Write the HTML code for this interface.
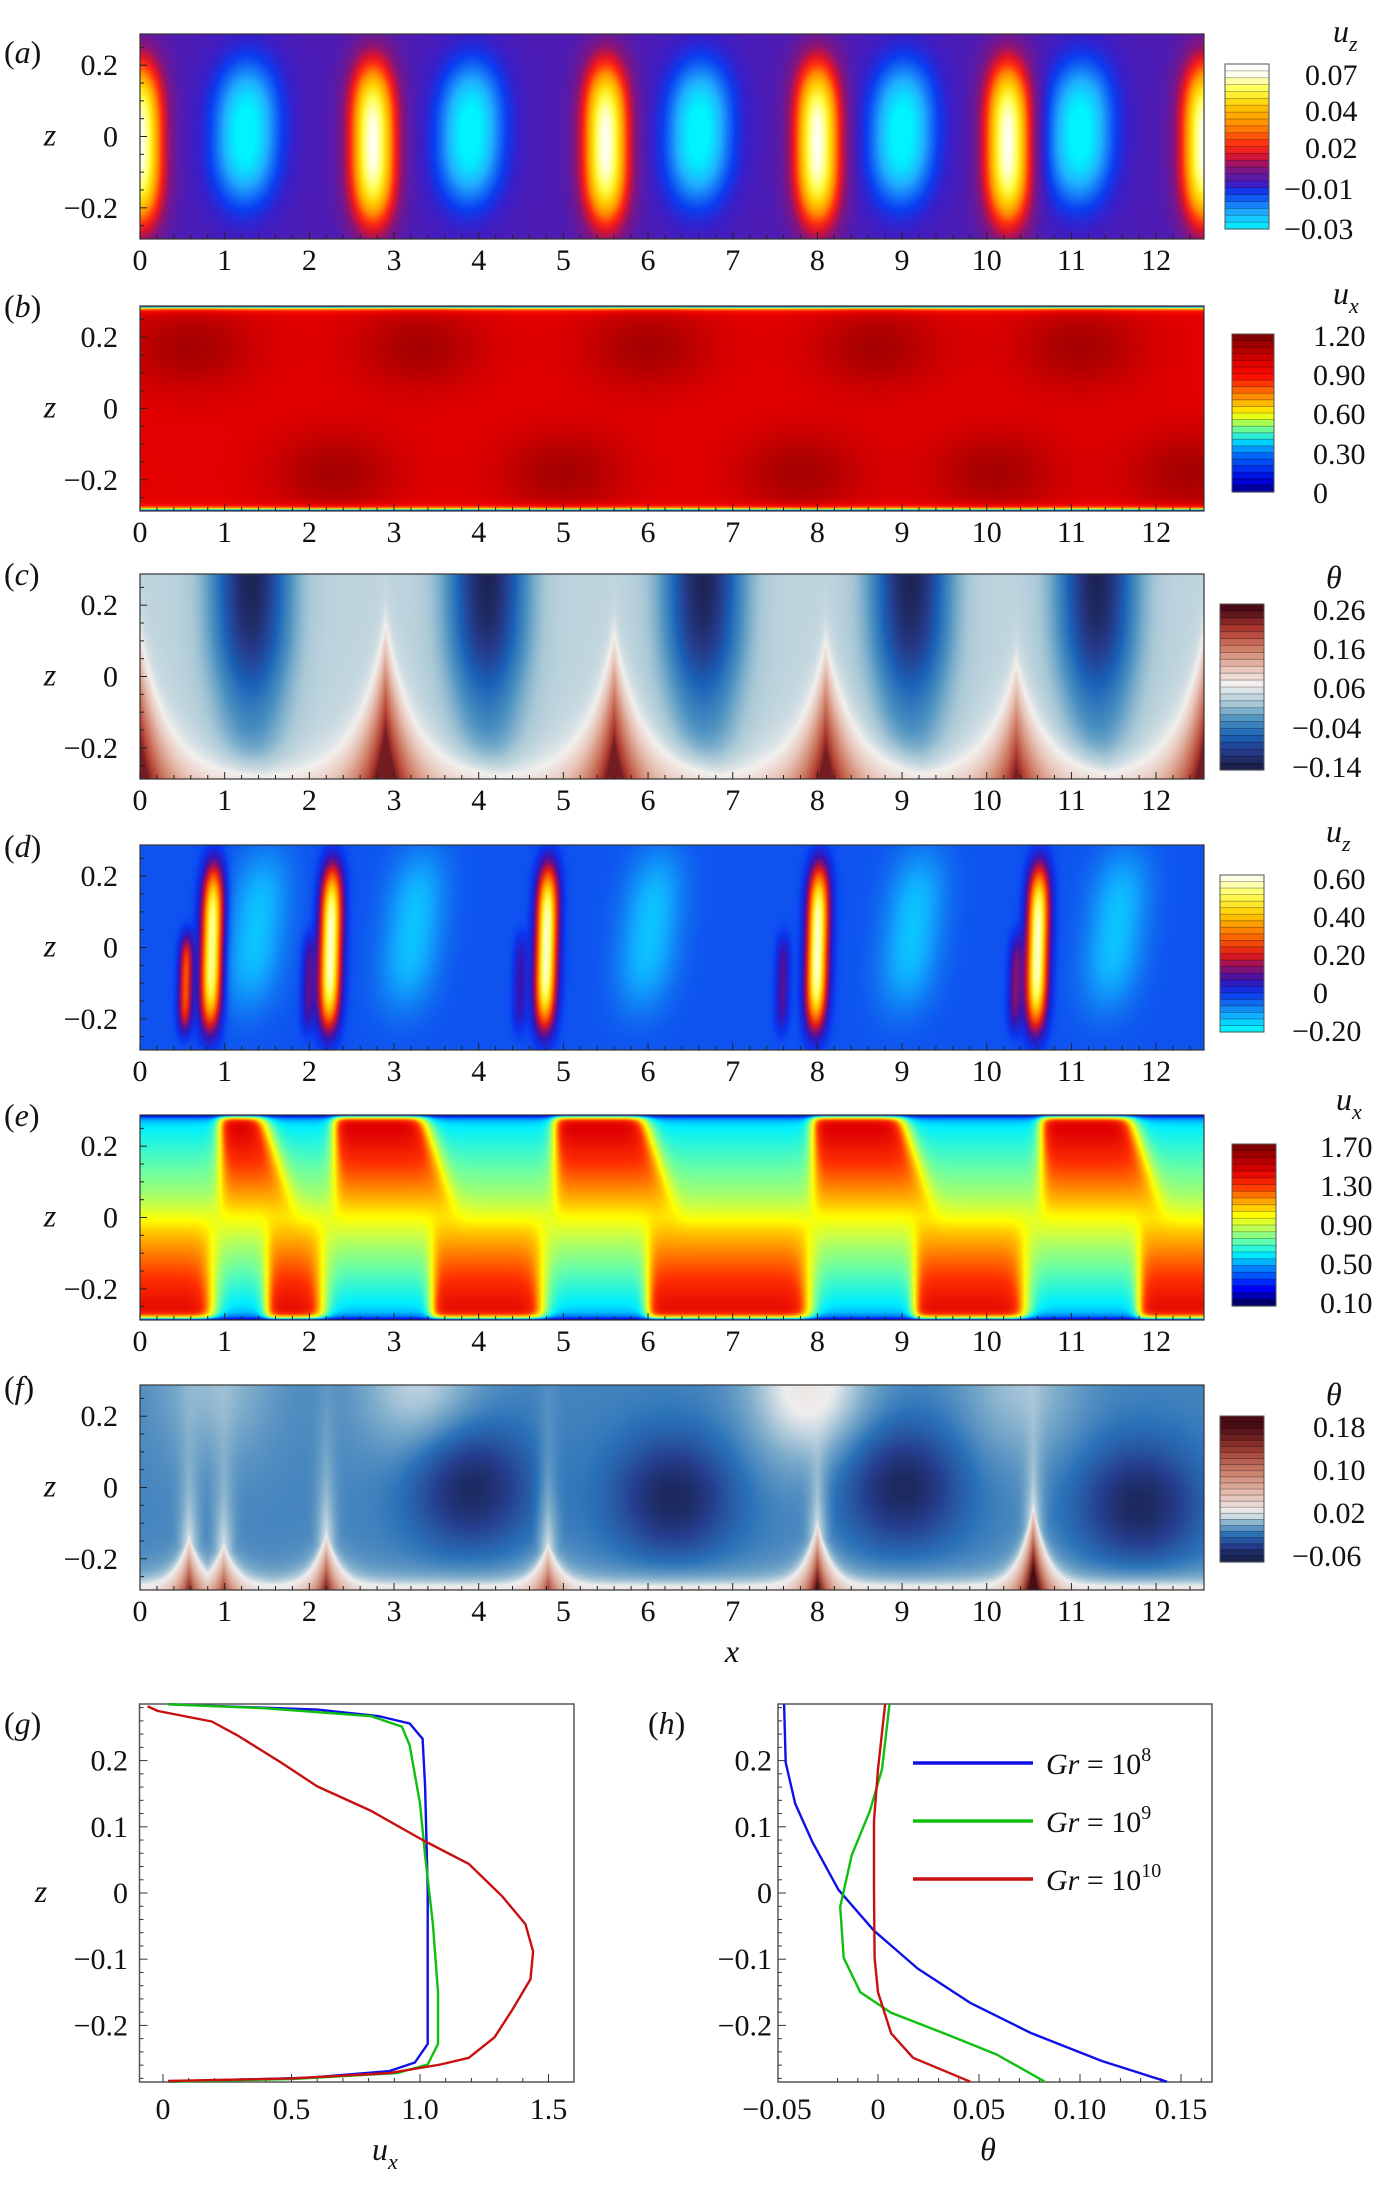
<!DOCTYPE html>
<html><head><meta charset="utf-8"><style>
body{margin:0;background:#fff;}
#wrap{position:relative;width:1383px;height:2187px;overflow:hidden;background:#fff;}
canvas{position:absolute;}
svg{position:absolute;left:0;top:0;}
text{font-family:"Liberation Serif",serif;fill:#111;}
</style></head><body>
<div id="wrap">
<canvas id="cv0" width="1064" height="205" style="left:140px;top:34px"></canvas>
<canvas id="cv1" width="1064" height="205" style="left:140px;top:306px"></canvas>
<canvas id="cv2" width="1064" height="205" style="left:140px;top:574px"></canvas>
<canvas id="cv3" width="1064" height="205" style="left:140px;top:845px"></canvas>
<canvas id="cv4" width="1064" height="205" style="left:140px;top:1115px"></canvas>
<canvas id="cv5" width="1064" height="205" style="left:140px;top:1385px"></canvas>
<svg id="sv" width="1383" height="2187"></svg>
</div>
<script>
// ---------- data for line profiles (g, h) ----------
const gZBlue=[0.285,0.277,0.267,0.256,0.233,0.161,0.005,-0.150,-0.228,-0.256,-0.269,-0.279,-0.285];
const gUBlue=[0.02,0.60,0.84,0.96,1.01,1.02,1.03,1.03,1.03,0.98,0.88,0.57,0.02];
const gZGreen=[0.285,0.279,0.267,0.251,0.223,0.135,0.057,-0.047,-0.150,-0.228,-0.259,-0.272,-0.281,-0.285];
const gUGreen=[0.02,0.40,0.81,0.93,0.96,1.00,1.02,1.05,1.07,1.07,1.03,0.91,0.50,0.02];
const gZRed=[0.282,0.275,0.259,0.238,0.197,0.161,0.124,0.080,0.044,-0.005,-0.047,-0.088,-0.130,-0.176,-0.218,-0.249,-0.259,-0.272,-0.280,-0.284];
const gURed=[-0.06,-0.02,0.19,0.29,0.46,0.60,0.81,1.01,1.19,1.32,1.41,1.44,1.43,1.36,1.29,1.19,1.08,0.88,0.50,0.02];
const hZBlue=[0.285,0.197,0.135,0.078,0.005,-0.057,-0.114,-0.166,-0.212,-0.254,-0.285];
const hTBlue=[-0.0465,-0.0457,-0.041,-0.0326,-0.0196,-0.002,0.0196,0.0457,0.076,0.111,0.143];
const hZGreen=[0.285,0.187,0.124,0.057,-0.021,-0.098,-0.150,-0.181,-0.212,-0.244,-0.285];
const hTGreen=[0.0057,0.002,-0.004,-0.013,-0.0187,-0.017,-0.0087,0.0065,0.0326,0.0587,0.0826];
const hZRed=[0.285,0.187,0.109,0.005,-0.098,-0.150,-0.212,-0.249,-0.285];
const hTRed=[0.0035,0.0,-0.002,-0.002,-0.0017,0.0,0.0065,0.0174,0.0457];
const gXTicks=[0,0.5,1.0,1.5];
const gXTickLabels=["0","0.5","1.0","1.5"];
const hXTicks=[-0.05,0,0.05,0.10,0.15];
const hXTickLabels=["−0.05","0","0.05","0.10","0.15"];
const zTicks=[0.2,0.1,0,-0.1,-0.2];
const zTickLabels=["0.2","0.1","0","−0.1","−0.2"];
// ---------- heatmap structure data ----------
const aHotX=[0,2.75,5.5,8.0,10.25,12.57];
const aColdX=[1.25,3.9,6.6,9.0,11.1];
const bTopX=[0.6,3.3,6.0,8.7,11.1];
const bBotX=[2.3,5.0,7.8,10.1,12.4];
const cPlumeX=[0,2.9,5.6,8.1,10.35,12.57];
const cPlumeH=[0.41,0.44,0.41,0.39,0.33,0.41];
const cColdX=[1.31,4.1,6.65,9.1,11.3];
const dHotX=[0.85,2.25,4.8,8.0,10.6];
const dHotAmp=[0.6,0.62,0.62,0.62,0.62];
const dWeakX=[0.55,2.0,4.5,7.6,10.35];
const dWeakAmp=[0.3,0.12,0.1,0.12,0.15];
const dColdX=[1.35,3.2,6.0,9.1,11.5];
const eTopRed=[[0.95,1.45],[2.3,3.35],[4.9,5.95],[7.95,9.0],[10.65,11.7]];
const eBotRed=[[-1,0.85],[1.5,2.15],[3.45,4.75],[6.0,7.9],[9.15,10.45],[11.8,14]];
const fSpikeX=[0.58,0.99,2.2,4.82,8.0,10.55];
const fSpikeH=[0.15,0.13,0.16,0.13,0.19,0.24];
const fDarkX=[3.9,6.3,9.0,11.8];
const fDarkZ=[0.0,-0.03,0.0,-0.05];
const fLightX=[0.9,3.3,7.9,10.4];
const fLightAmp=[0.018,0.026,0.04,0.02];
const heatXTicks=[0,1,2,3,4,5,6,7,8,9,10,11,12];

// ---------- colormaps ----------
function hx(h){return [parseInt(h.slice(1,3),16),parseInt(h.slice(3,5),16),parseInt(h.slice(5,7),16)];}
function mk(a){return a.map(s=>[s[0],hx(s[1])]);}
const cmA=mk([[-0.03,'#00f4ff'],[-0.022,'#20b0ff'],[-0.012,'#0a3cf0'],[-0.007,'#3a1ec8'],[-0.002,'#5a1aa8'],[0.006,'#8a1478'],[0.015,'#e0142a'],[0.022,'#ff3010'],[0.032,'#ff8a00'],[0.045,'#ffd000'],[0.058,'#ffff50'],[0.072,'#ffffff']]);
const cmB=mk([[0,'#000080'],[0.1,'#0000e0'],[0.3,'#0070ff'],[0.4,'#00e0ff'],[0.5,'#80ff80'],[0.6,'#ffff00'],[0.75,'#ff8000'],[0.88,'#ff1000'],[1.0,'#e00000'],[1.2,'#800000']]);
const cmC=mk([[-0.14,'#1a1f48'],[-0.1,'#263a8a'],[-0.06,'#1a62b8'],[-0.02,'#4a90c0'],[0.02,'#a8c8d6'],[0.07,'#f2f0ee'],[0.11,'#e8c4b8'],[0.16,'#d08068'],[0.21,'#b03a30'],[0.26,'#4a0a18']]);
const cmD=mk([[-0.2,'#00ffff'],[-0.12,'#10b0ff'],[-0.05,'#1068f0'],[0,'#0a34f0'],[0.07,'#3a14b0'],[0.13,'#8a1070'],[0.2,'#e01818'],[0.3,'#ff6a00'],[0.42,'#ffd000'],[0.52,'#ffff60'],[0.62,'#ffffff']]);
const cmE=mk([[0.1,'#00006a'],[0.25,'#0000ff'],[0.45,'#0080ff'],[0.6,'#00f0ff'],[0.75,'#70ffa0'],[0.9,'#d0ff40'],[1.0,'#ffff00'],[1.15,'#ffa000'],[1.3,'#ff3000'],[1.45,'#e00000'],[1.7,'#800000']]);
const cmF=mk([[-0.06,'#1a2250'],[-0.04,'#253f90'],[-0.02,'#2a72b8'],[0.0,'#80aecb'],[0.02,'#eeeeee'],[0.06,'#e2b8aa'],[0.1,'#c87a66'],[0.14,'#983830'],[0.18,'#4a0c14']]);
function cm(st,v){
  if(v<=st[0][0])return st[0][1];
  for(let k=1;k<st.length;k++){if(v<=st[k][0]){const a=st[k-1],b=st[k];const t=(v-a[0])/(b[0]-a[0]);return [a[1][0]+(b[1][0]-a[1][0])*t,a[1][1]+(b[1][1]-a[1][1])*t,a[1][2]+(b[1][2]-a[1][2])*t];}}
  return st[st.length-1][1];
}
const E=Math.exp,A=Math.abs;
function sq(t){return t*t;}
function sig(t){return 1/(1+E(-t));}
function nearest(arr,x){let b=arr[0];for(const p of arr)if(A(x-p)<A(x-b))b=p;return b;}

function fA(x,z){let v=-0.004;
  for(const p of aHotX){const d=x-p;v+=0.075*E(-d*d/0.0625)*E(-Math.pow(A(z+0.02)/0.22,3));}
  for(const p of aColdX){const d=x-p-0.1*z;v-=0.028*E(-d*d/0.15)*E(-Math.pow(A(z-0.01)/0.2,2.5));}
  return v;}
function fB(x,z){let v=0.99;
  for(const p of bTopX){const d=x-p;v+=0.13*E(-d*d/0.6-sq((z-0.17)/0.12));}
  for(const p of bBotX){const d=x-p;v+=0.13*E(-d*d/0.6-sq((z+0.18)/0.12));}
  const w=0.2875-A(z);v*=(1-E(-Math.max(w,0)/0.007));return v;}
function fC(x,z){let zc=-1;
  for(let k=0;k<cPlumeX.length;k++){const q=-0.2875+cPlumeH[k]*E(-A(x-cPlumeX[k])/0.35);if(q>zc)zc=q;}
  const d=z-zc;
  if(d<0)return 0.07+Math.min(0.17,-d*0.55);
  const xb=nearest(cColdX,x);const B=0.035-0.17*E(-sq((x-xb)/0.45))*(0.35+0.65*sig((z-0.02)/0.07));
  return 0.07-(0.07-B)*(1-E(-d/0.06));}
function fD(x,z){let v=-0.03;
  for(let k=0;k<dHotX.length;k++){const d=x-dHotX[k]-0.1*z;v+=dHotAmp[k]*E(-d*d/0.0144)*E(-Math.pow(A(z)/0.22,4));}
  for(let k=0;k<dWeakX.length;k++){const d=x-dWeakX[k]-0.1*z;v+=dWeakAmp[k]*E(-d*d/0.006)*E(-Math.pow(A(z+0.1)/0.13,4));}
  for(const p of dColdX){const d=x-p-0.5*z;v-=0.11*E(-d*d/0.12)*E(-Math.pow(A(z-0.05)/0.22,3));}
  return v;}
function ind(x,iv,sl){let m=0;for(const r of iv){const t=sig((x-r[0])/0.04)*sig((r[1]+sl-x)/0.06);if(t>m)m=t;}return m;}
function fE(x,z){
  const zt=Math.min(Math.max(z/0.27,0),1),zb=Math.min(Math.max(-z/0.27,0),1);
  const Iu=ind(x,eTopRed,0.4*(1-zt)),Il=ind(x,eBotRed,0);
  const vu=Iu*(1.05+0.45*zt)+(1-Iu)*(0.9-0.32*zt);
  const vl=Il*(1.05+0.4*zb)+(1-Il)*(0.95-0.4*zb);
  let v=vl+(vu-vl)*sig(z/0.02);
  const w=0.2875-A(z);v=0.1+(v-0.1)*(1-E(-Math.max(w,0)/0.008));return v;}
function fF(x,z){let zc=-1,bx=0;
  for(let k=0;k<fSpikeX.length;k++){const q=-0.2875+fSpikeH[k]*E(-A(x-fSpikeX[k])/0.18);if(q>zc){zc=q;bx=fSpikeX[k];}}
  let B=-0.014;
  for(let k=0;k<fDarkX.length;k++)B-=0.042*E(-sq((x-fDarkX[k])/0.7)-sq((z-fDarkZ[k])/0.17));
  for(let k=0;k<fLightX.length;k++)B+=fLightAmp[k]*E(-sq((x-fLightX[k])/0.7)-sq((z-0.29)/0.22));
  const d=z-zc;
  if(d<0)return 0.02+Math.min(0.16,-d*0.9);
  const col=E(-sq((x-bx)/0.14))*E(-d/0.22);
  let v=B+(0.02-B)*Math.max(E(-d/0.04),0.85*col);
  const wb=z+0.2875;v=v+(0.03-v)*E(-wb/0.014);return v;}

function draw(id,fn,st){const c=document.getElementById(id),g=c.getContext('2d'),W=c.width,H=c.height,im=g.createImageData(W,H);
  for(let j=0;j<H;j++){const z=0.2875-(j+0.5)/H*0.575;for(let i=0;i<W;i++){const x=(i+0.5)/W*12.566;const col=cm(st,fn(x,z));const o=(j*W+i)*4;im.data[o]=col[0];im.data[o+1]=col[1];im.data[o+2]=col[2];im.data[o+3]=255;}}
  g.putImageData(im,0,0);}
draw('cv0',fA,cmA);draw('cv1',fB,cmB);draw('cv2',fC,cmC);draw('cv3',fD,cmD);draw('cv4',fE,cmE);draw('cv5',fF,cmF);

// ---------- SVG annotations ----------
const NS='http://www.w3.org/2000/svg',sv=document.getElementById('sv');
function el(tag,at,par){const e=document.createElementNS(NS,tag);for(const k in at)e.setAttribute(k,at[k]);(par||sv).appendChild(e);return e;}
function txt(s,x,y,sz,anchor,it){const t=el('text',{x:x,y:y,'font-size':sz,'text-anchor':anchor||'start'});if(it)t.setAttribute('font-style','italic');t.textContent=s;return t;}
const PX=140,PW=1064,PH=205,tops=[34,306,574,845,1115,1385];
const letters=['a','b','c','d','e','f'];
const letterY=[53,307,575,847,1116,1388];
function hxp(x){return PX+x/12.566*PW;}
function hzp(top,z){return top+(0.2875-z)/0.575*PH;}
tops.forEach((top,p)=>{
  const fr=el('rect',{x:PX,y:top,width:PW,height:PH,fill:'none',stroke:'#333','stroke-width':1.2});
  
  
  for(let m=0;m<=62;m++){const x=hxp(m*0.2);const major=m%5===0;el('line',{x1:x,x2:x,y1:top+PH,y2:top+PH-(major?7:4),stroke:'#222','stroke-width':1});}
  for(let m=-5;m<=5;m++){const y=hzp(top,m*0.05);const major=m%4===0;el('line',{x1:PX,x2:PX+(major?7:4),y1:y,y2:y,stroke:'#222','stroke-width':1});}
  heatXTicks.forEach(v=>{const t=txt(String(v),hxp(v),top+PH+31,30,'middle');
    
    });
  [['0.2',0.2],['0',0],['−0.2',-0.2]].forEach(q=>{const t=txt(q[0],118,hzp(top,q[1])+10,30,'end');
    
    });
  const zl=txt('z',50,hzp(top,0)+9,32,'middle',true);
  
  
  const pl=el('text',{x:4,y:letterY[p]+10,'font-size':32});pl.textContent='(';const ts=el('tspan',{'font-style':'italic'},pl);ts.textContent=letters[p];const ts2=el('tspan',{},pl);ts2.textContent=')';
  
  
});
const xl=txt('x',732,1662,32,'middle',true);



// colorbars
const cbars=[
 {x:1225,y:64,w:44,h:165,cm:cmA,vals:[0.07,0.04,0.02,-0.01,-0.03],ys:[75,111,148,189,229],lx:1305,t:'u',s:'z',tx:1333,ty:42},
 {x:1232,y:334,w:42,h:158,cm:cmB,vals:[1.2,0.9,0.6,0.3,0],ys:[336,375,414,454,493],lx:1313,t:'u',s:'x',tx:1333,ty:304},
 {x:1220,y:604,w:44,h:166,cm:cmC,vals:[0.26,0.16,0.06,-0.04,-0.14],ys:[610,649,688,728,767],lx:1313,t:'θ',s:'',tx:1326,ty:588},
 {x:1220,y:875,w:44,h:157,cm:cmD,vals:[0.6,0.4,0.2,0,-0.2],ys:[879,917,955,993,1031],lx:1313,t:'u',s:'z',tx:1326,ty:842},
 {x:1232,y:1144,w:44,h:162,cm:cmE,vals:[1.7,1.3,0.9,0.5,0.1],ys:[1147,1186,1225,1264,1303],lx:1320,t:'u',s:'x',tx:1336,ty:1110},
 {x:1220,y:1416,w:44,h:146,cm:cmF,vals:[0.18,0.10,0.02,-0.06],ys:[1427,1470,1513,1556],lx:1313,t:'θ',s:'',tx:1326,ty:1405}];
cbars.forEach((c,ci)=>{
  const g=el('g',{});
  
  
  const N=24;
  for(let k=0;k<N;k++){const yy=c.y+k*c.h/N;const ym=yy+c.h/N/2;
    const ys=c.ys,vs=c.vals;
    let i=0;while(i<ys.length-2&&ym>ys[i+1])i++;
    const v=vs[i]+(vs[i+1]-vs[i])*(ym-ys[i])/(ys[i+1]-ys[i]);
    const col=cm(c.cm,v);
    el('rect',{x:c.x,y:yy,width:c.w,height:c.h/N+0.6,fill:'rgb('+col.map(Math.round).join(',')+')'},g);
    if(k>0)el('line',{x1:c.x,x2:c.x+c.w,y1:yy,y2:yy,stroke:'rgba(0,0,0,0.35)','stroke-width':0.8},g);}
  el('rect',{x:c.x,y:c.y,width:c.w,height:c.h,fill:'none',stroke:'#555','stroke-width':1},g);
  c.vals.forEach((v,k)=>{const s=(v<0?'−':'')+(v===0?'0':Math.abs(v).toFixed(2));
    const t=txt(s,v<0?c.lx-21:c.lx,c.ys[k]+10,30,'start');
    
    });
  const tt=el('text',{x:c.tx,y:c.ty,'font-size':32,'font-style':'italic'});tt.textContent=c.t;
  if(c.s){const sb=el('tspan',{dy:9,'font-size':22},tt);sb.textContent=c.s;}
  
  
});

// ---------- line plots ----------
const GT=1704,GB=2082;
function zy(z){return 1893-z*662;}
function gx(u){return 163+u*257;}
function hxx(t){return 878+t*2020;}
function frame(x0,x1,name){const r=el('rect',{x:x0,y:GT,width:x1-x0,height:GB-GT,fill:'none',stroke:'#555','stroke-width':1.5});
  
  }
frame(139.5,574,'plot-g-frame');frame(778,1212,'plot-h-frame');
for(let m=-14;m<=14;m++){const y=zy(m*0.02);const mj=m%5===0;
  el('line',{x1:139.5,x2:139.5+(mj?8:4),y1:y,y2:y,stroke:'#333'});el('line',{x1:778,x2:778+(mj?8:4),y1:y,y2:y,stroke:'#333'});}
for(let m=-1;m<=15;m++){const x=gx(m*0.1);if(x>140&&x<574)el('line',{x1:x,x2:x,y1:GB,y2:GB-(m%5===0?8:4),stroke:'#333'});}
for(let m=-2;m<=16;m++){const x=hxx(m*0.01);if(x>778&&x<1212)el('line',{x1:x,x2:x,y1:GB,y2:GB-(m%5===0?8:4),stroke:'#333'});}
gXTicks.forEach((v,i)=>{const t=txt(gXTickLabels[i],gx(v),2119,30,'middle');
  
  });
hXTicks.forEach((v,i)=>{const t=txt(hXTickLabels[i],hxx(v),2119,30,'middle');
  
  });
zTicks.forEach((v,i)=>{const t=txt(zTickLabels[i],128,zy(v)+10,30,'end');
  
  
  const t2=txt(zTickLabels[i],772,zy(v)+10,30,'end');
  
  });
function plab(s,x,y,name){const pl=el('text',{x:x,y:y,'font-size':32});pl.textContent='(';const a=el('tspan',{'font-style':'italic'},pl);a.textContent=s;const b=el('tspan',{},pl);b.textContent=')';
  
  }
plab('g',4,1734,'panel-label-g');plab('h',648,1734,'panel-label-h');
const gz=txt('z',41,1902,32,'middle',true);


const ux=el('text',{x:372,y:2160,'font-size':32,'font-style':'italic'});ux.textContent='u';const uxs=el('tspan',{dy:9,'font-size':22},ux);uxs.textContent='x';


const th=txt('θ',988,2160,32,'middle',true);


function series(zs,vs,fx,color,name){const d=zs.map((z,i)=>(i?'L':'M')+fx(vs[i]).toFixed(1)+' '+zy(z).toFixed(1)).join(' ');
  const p=el('path',{d:d,fill:'none',stroke:color,'stroke-width':2.4,'stroke-linejoin':'round'});
  
  }
series(gZBlue,gUBlue,gx,'#1010e8','g-line-gr1e8');
series(gZGreen,gUGreen,gx,'#10c010','g-line-gr1e9');
series(gZRed,gURed,gx,'#c81010','g-line-gr1e10');
series(hZBlue,hTBlue,hxx,'#1010e8','h-line-gr1e8');
series(hZGreen,hTGreen,hxx,'#10c010','h-line-gr1e9');
series(hZRed,hTRed,hxx,'#c81010','h-line-gr1e10');
// legend
const legendCols=['#1010e8','#10c010','#c81010'];
const legendExp=['8','9','10'];
const legendY=[1763,1821,1879];
legendY.forEach((y,i)=>{const g=el('g',{});
  
  
  el('line',{x1:913,x2:1033,y1:y,y2:y,stroke:legendCols[i],'stroke-width':3.5},g);
  const t=el('text',{x:1046,y:y+11,'font-size':30},g);const a=el('tspan',{'font-style':'italic'},t);a.textContent='Gr';const b=el('tspan',{},t);b.textContent=' = 10';const c=el('tspan',{dy:-13,'font-size':20},t);c.textContent=legendExp[i];});
</script>
</body></html>
